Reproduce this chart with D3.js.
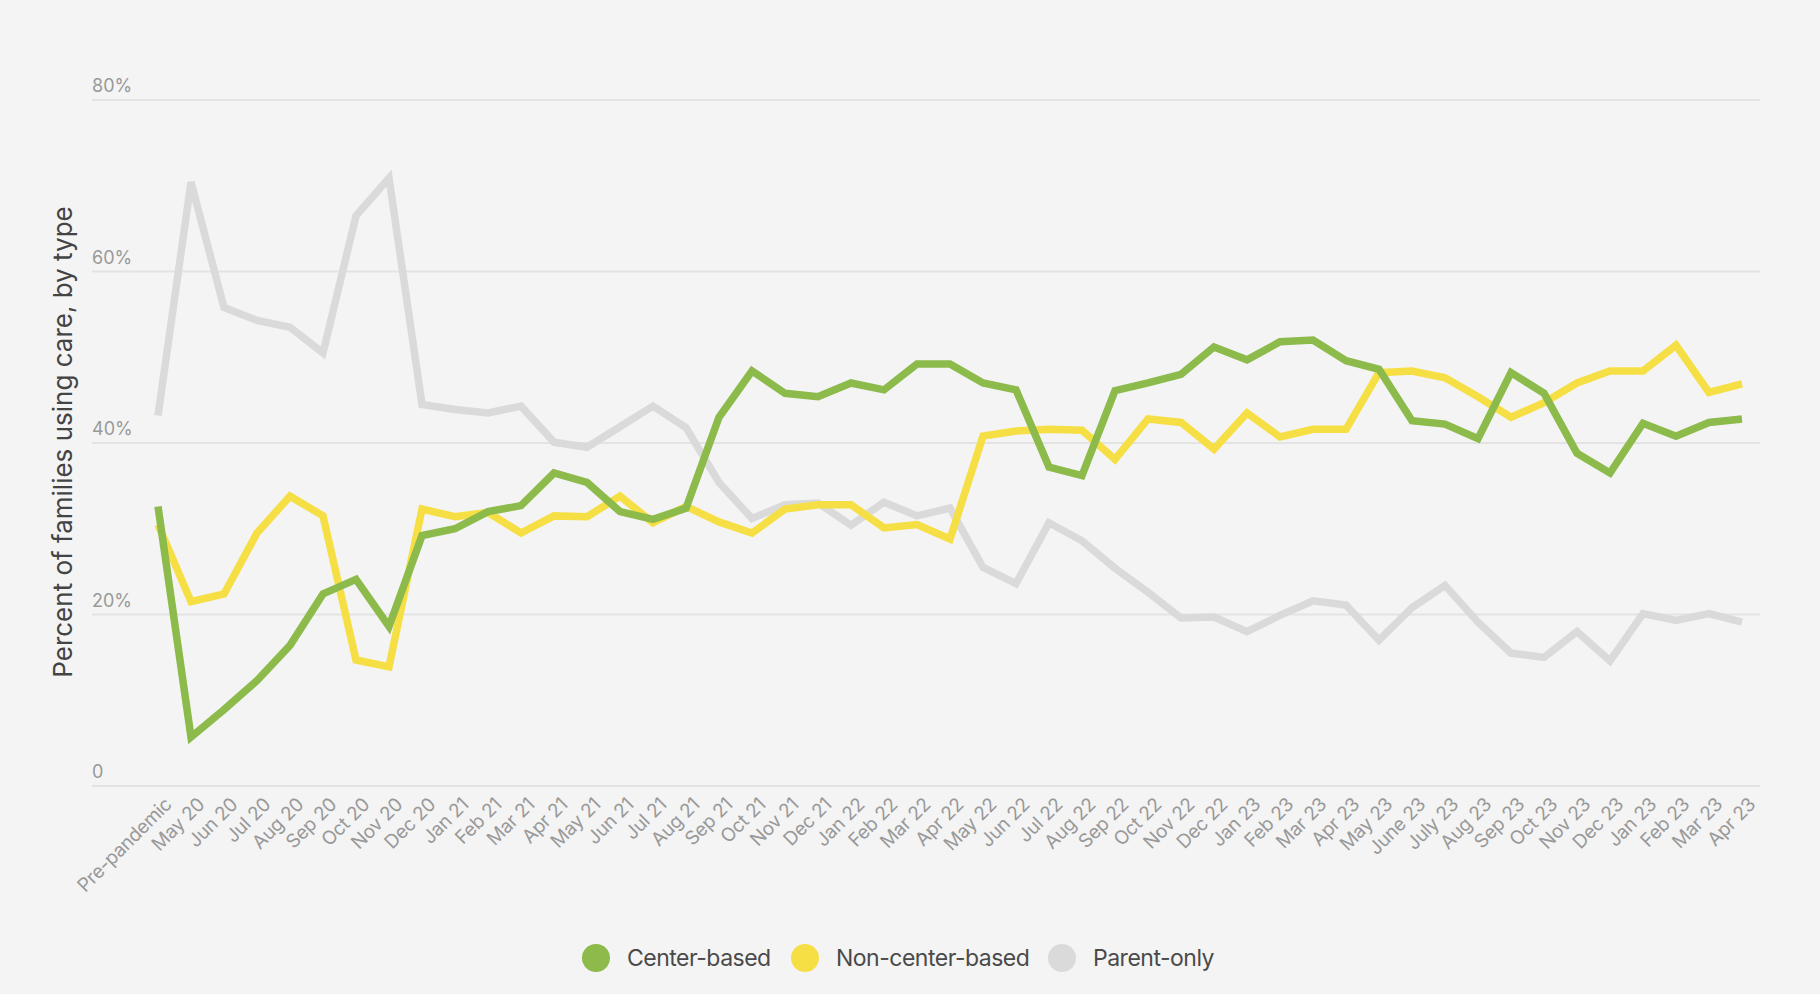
<!DOCTYPE html>
<html>
<head>
<meta charset="utf-8">
<script src="https://cdn.jsdelivr.net/npm/d3@7"></script>
<style>
  body { margin: 0; background: #f4f4f4; }
  svg { display: block; }
</style>
</head>
<body>
<svg id="canvas" width="1820" height="994"></svg>
<script>
let months = ["Pre-pandemic", "May 20", "Jun 20", "Jul 20", "Aug 20", "Sep 20", "Oct 20", "Nov 20", "Dec 20",
  "Jan 21", "Feb 21", "Mar 21", "Apr 21", "May 21", "Jun 21", "Jul 21", "Aug 21", "Sep 21", "Oct 21", "Nov 21", "Dec 21",
  "Jan 22", "Feb 22", "Mar 22", "Apr 22", "May 22", "Jun 22", "Jul 22", "Aug 22", "Sep 22", "Oct 22", "Nov 22", "Dec 22",
  "Jan 23", "Feb 23", "Mar 23", "Apr 23", "May 23", "June 23", "July 23", "Aug 23", "Sep 23", "Oct 23", "Nov 23", "Dec 23",
  "Jan 23 ", "Feb 23 ", "Mar 23 ", "Apr 23 "]

let centerBased = [32.6, 5.7, 8.9, 12.3, 16.4, 22.4, 24.1, 18.6, 29.2,
  30.0, 32.0, 32.7, 36.5, 35.4, 32.0, 31.1, 32.4, 43.0, 48.4, 45.8, 45.4,
  47.0, 46.2, 49.2, 49.2, 47.0, 46.2, 37.2, 36.2, 46.1, 47.0, 48.0, 51.2,
  49.7, 51.8, 52.0, 49.6, 48.6, 42.6, 42.2, 40.5, 48.2, 45.8, 38.8, 36.5,
  42.3, 40.8, 42.4, 42.8]

let nonCenterBased = [30.5, 21.5, 22.4, 29.5, 33.8, 31.5, 14.7, 13.9, 32.3,
  31.4, 31.9, 29.5, 31.5, 31.4, 33.8, 30.7, 32.6, 30.8, 29.5, 32.3, 32.8,
  32.8, 30.1, 30.5, 28.8, 40.8, 41.4, 41.6, 41.5, 38.1, 42.8, 42.4, 39.3,
  43.5, 40.7, 41.6, 41.6, 48.2, 48.4, 47.6, 45.4, 43.0, 44.7, 47.0, 48.4,
  48.4, 51.4, 45.9, 46.9]

let parentOnly = [43.2, 70.4, 55.8, 54.3, 53.5, 50.5, 66.5, 70.9, 44.5,
  43.9, 43.5, 44.3, 40.1, 39.5, 41.9, 44.3, 41.8, 35.4, 31.2, 32.8, 33.0,
  30.4, 33.1, 31.5, 32.4, 25.5, 23.6, 30.7, 28.6, 25.4, 22.6, 19.6, 19.7,
  18.0, 19.9, 21.6, 21.1, 17.0, 20.8, 23.4, 19.1, 15.5, 15.0, 18.0, 14.6,
  20.1, 19.3, 20.1, 19.1]

let yTicks = [0, 20, 40, 60, 80]

let seriesNames = ["Center-based", "Non-center-based", "Parent-only"]
let seriesColors = ["#8cba4b", "#f6df45", "#dadada"]

let series = [
  {name: seriesNames[2], color: seriesColors[2], values: parentOnly},
  {name: seriesNames[1], color: seriesColors[1], values: nonCenterBased},
  {name: seriesNames[0], color: seriesColors[0], values: centerBased}
]

let canvas = d3.select("#canvas")

let xScale = d3.scalePoint()
  .domain(months)
  .range([158, 1742])

let yScale = d3.scaleLinear()
  .domain([0, 80])
  .range([786, 100])

// gridlines + labels
let grid = canvas.append("g")
grid.selectAll("line")
  .data(yTicks)
  .enter()
  .append("line")
  .attr("x1", 92)
  .attr("x2", 1760)
  .attr("y1", d => yScale(d))
  .attr("y2", d => yScale(d))
  .attr("stroke", "#e3e3e3")
  .attr("stroke-width", 2)

grid.selectAll("text")
  .data(yTicks)
  .enter()
  .append("text")
  .attr("x", 92)
  .attr("y", d => yScale(d) - 8)
  .attr("font-family", "Inter, 'DejaVu Sans', sans-serif")
  .attr("font-size", 18)
  .attr("fill", "#999")
  .text(d => d === 0 ? "0" : d + "%")

// x labels
canvas.append("g")
  .selectAll("text")
  .data(months)
  .enter()
  .append("text")
  .attr("transform", m => "translate(" + (xScale(m) + 10) + ",801) rotate(-45)")
  .attr("text-anchor", "end")
  .attr("dy", "0.35em")
  .attr("font-family", "Inter, 'DejaVu Sans', sans-serif")
  .attr("font-size", 19)
  .attr("letter-spacing", -0.3)
  .attr("fill", "#999")
  .text(m => m.trim())

// axis title
canvas.append("text")
  .attr("transform", "translate(72,442) rotate(-90)")
  .attr("text-anchor", "middle")
  .attr("font-family", "Inter, 'Noto Sans', sans-serif")
  .attr("font-size", 26)
  .attr("fill", "#444")
  .text("Percent of families using care, by type")

// lines
let line = d3.line()
  .x((d, i) => xScale(months[i]))
  .y(d => yScale(d))

canvas.append("g")
  .selectAll("path")
  .data(series)
  .enter()
  .append("path")
  .attr("d", s => line(s.values))
  .attr("fill", "none")
  .attr("stroke", s => s.color)
  .attr("stroke-width", 7.5)
  .attr("stroke-linejoin", "miter")

// legend
let legendX = [596, 805, 1062]
let legend = canvas.append("g")
  .selectAll("g")
  .data(seriesNames)
  .enter()
  .append("g")
  .attr("transform", (n, i) => "translate(" + legendX[i] + ",958)")

legend.append("circle")
  .attr("r", 14)
  .attr("fill", (n, i) => seriesColors[i])

legend.append("text")
  .attr("x", 31)
  .attr("dy", "0.35em")
  .attr("font-family", "Inter, 'Noto Sans', sans-serif")
  .attr("font-size", 23)
  .attr("letter-spacing", -0.5)
  .attr("fill", "#4a4a4a")
  .text(n => n)
</script>
</body>
</html>
